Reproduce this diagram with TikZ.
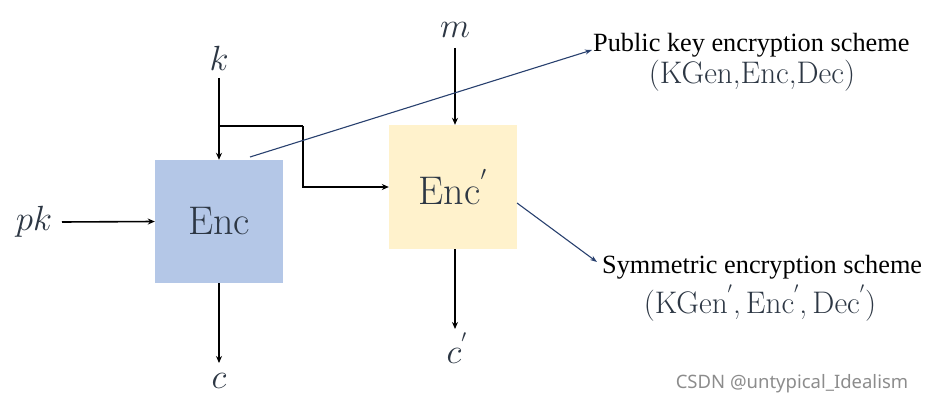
\RequirePackage{fix-cm}
\documentclass[tikz,border=0pt]{standalone}
\usepackage{fontspec}
\newfontfamily\timesfont{Liberation Serif}
\newfontfamily\wmfont{Noto Sans}
\usetikzlibrary{arrows.meta}
\definecolor{mathc}{RGB}{45,55,68}
\definecolor{encblue}{RGB}{180,199,231}
\definecolor{encyel}{RGB}{255,242,204}
\definecolor{navy}{RGB}{40,64,110}
\tikzset{
  box/.style={draw=none, minimum width=128pt, minimum height=123pt, inner sep=0pt, text=mathc, font=\fontsize{40}{44}\selectfont},
  lbl/.style={text=mathc, inner sep=0pt, font=\fontsize{35}{38}\selectfont},
  arr/.style={line width=1.6pt, -{Stealth[length=7pt,width=6pt]}},
  blu/.style={draw=navy, line width=1.1pt, -{Stealth[length=7pt,width=5pt]}},
  ttl/.style={inner sep=0pt, font=\timesfont\fontsize{26.3}{28}\selectfont},
  tup/.style={inner sep=0pt, text=mathc, font=\fontsize{31.2}{34}\selectfont},
}
\begin{document}
\begin{tikzpicture}[x=1pt,y=-1pt]
\useasboundingbox (0,0) rectangle (927,404);
\node[box, fill=encblue] (enc) at (219,221.5) {Enc};
\node[box, fill=encyel, minimum height=124pt] (enc2) at (453,187) {Enc$^{'}$};
\node[lbl] (k) at (219,58) {$k$};
\node[lbl] (m) at (455,30) {$m$};
\node[lbl] (pk) at (34,222) {$pk$};
\node[lbl] (c) at (219,381) {$c$};
\node[lbl] (c2) at (457,348) {$c^{'}$};
\coordinate (ks) at (219,78);
\coordinate (ms) at (455,48);
\coordinate (pks) at (62,222);
\coordinate (ce) at (219,363);
\coordinate (c2e) at (455,329);
\coordinate (br) at (219,126);
\coordinate (tc) at (303,126);
\draw[arr] (ks) -- (enc.north);
\draw[line width=1.6pt] (br) -- (tc);
\draw[arr] (tc) |- (enc2.west);
\draw[arr] (ms) -- (ms |- enc2.north);
\draw[arr] (pks) -- (enc.west);
\draw[arr] (enc.south) -- (ce);
\draw[arr] (enc2.south -| c2e) -- (c2e);
\node[ttl, anchor=west] (pub) at (593,45) {Public key encryption scheme};
\node[tup] (pubt) at (752,76) {(KGen,Enc,Dec)};
\node[ttl, anchor=west] (sym) at (602,267) {Symmetric encryption scheme};
\node[tup] (symt) at (760,303) {(KGen$^{'}$,\,Enc$^{'}$,\,Dec$^{'}$)};
\coordinate (s1) at (250,157);
\coordinate (e1) at (592,50);
\coordinate (s2) at (517,203);
\coordinate (e2) at (597,262);
\draw[blu] (s1) -- (e1);
\draw[blu] (s2) -- (e2);
\node[inner sep=0pt, text=black!45, font=\wmfont\fontsize{18.5}{20}\selectfont] (wm) at (792,384) {CSDN @untypical\_Idealism};
\end{tikzpicture}
\end{document}
